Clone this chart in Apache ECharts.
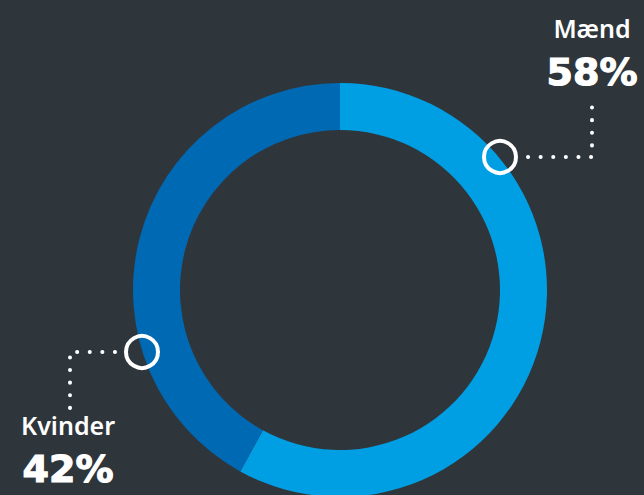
<!DOCTYPE html>
<html>
<head>
<meta charset="utf-8">
<script src="https://cdn.jsdelivr.net/npm/echarts@6/dist/echarts.min.js"></script>
<style>
  html, body { margin: 0; padding: 0; background: #2e363c; }
  #main { width: 644px; height: 495px; }
</style>
</head>
<body>
<div id="main"></div>
<script>
// data
const genders = ["Mænd", "Kvinder"];
const shares = [58, 42];
const colors = ["#009fe3", "#0069b4"];

// where each marker sits on the ring and where its label goes
const markers = [
  { dot: [500, 157], corner: [592, 157], end: [592, 106], label: [592, 10] },
  { dot: [142, 352], corner: [70, 352], end: [70, 408], label: [68, 407] },
];

const myChart = echarts.init(document.getElementById("main"), null, { renderer: "svg" });

const option = {
  backgroundColor: "#2e363c",
  animation: false,
  series: [
    {
      type: "pie",
      silent: true,
      center: [340, 290],
      radius: [160, 207],
      startAngle: 90,
      clockwise: true,
      avoidLabelOverlap: false,
      emphasis: { disabled: true },
      label: {
        show: true,
        position: "outside",
        color: "#fff",
        align: "center",
        formatter: (p) => "{n|" + p.name + "}\n{p|" + p.value + "%}",
        rich: {
          n: { fontSize: 25, fontWeight: 600, lineHeight: 36, color: "#fff", fontFamily: "Noto Sans", align: "center" },
          p: {
            fontSize: 38, fontWeight: "bold", lineHeight: 51, color: "#fff", fontFamily: "DejaVu Sans", align: "center",
            textBorderColor: "#fff", textBorderWidth: 1.2,
          },
        },
      },
      labelLine: {
        show: true,
        lineStyle: { color: "#fff", width: 4, type: [0.1, 12.5], cap: "round" },
      },
      labelLayout: (params) => {
        const m = markers[params.dataIndex];
        const start = params.dataIndex === 0 ? [m.dot[0] + 28, m.dot[1]] : [m.dot[0] - 27, m.dot[1]];
        return {
          x: m.label[0],
          y: m.label[1],
          align: "center",
          verticalAlign: "top",
          labelLinePoints: [start, m.corner, m.end],
        };
      },
      data: genders.map((g, i) => ({
        name: g,
        value: shares[i],
        itemStyle: { color: colors[i] },
      })),
    },
  ],
  graphic: markers.map((m) => ({
    type: "circle",
    silent: true,
    shape: { cx: m.dot[0], cy: m.dot[1], r: 16 },
    style: { fill: "none", stroke: "#fff", lineWidth: 4 },
    z: 10,
  })),
};

option && myChart.setOption(option);
</script>
</body>
</html>
